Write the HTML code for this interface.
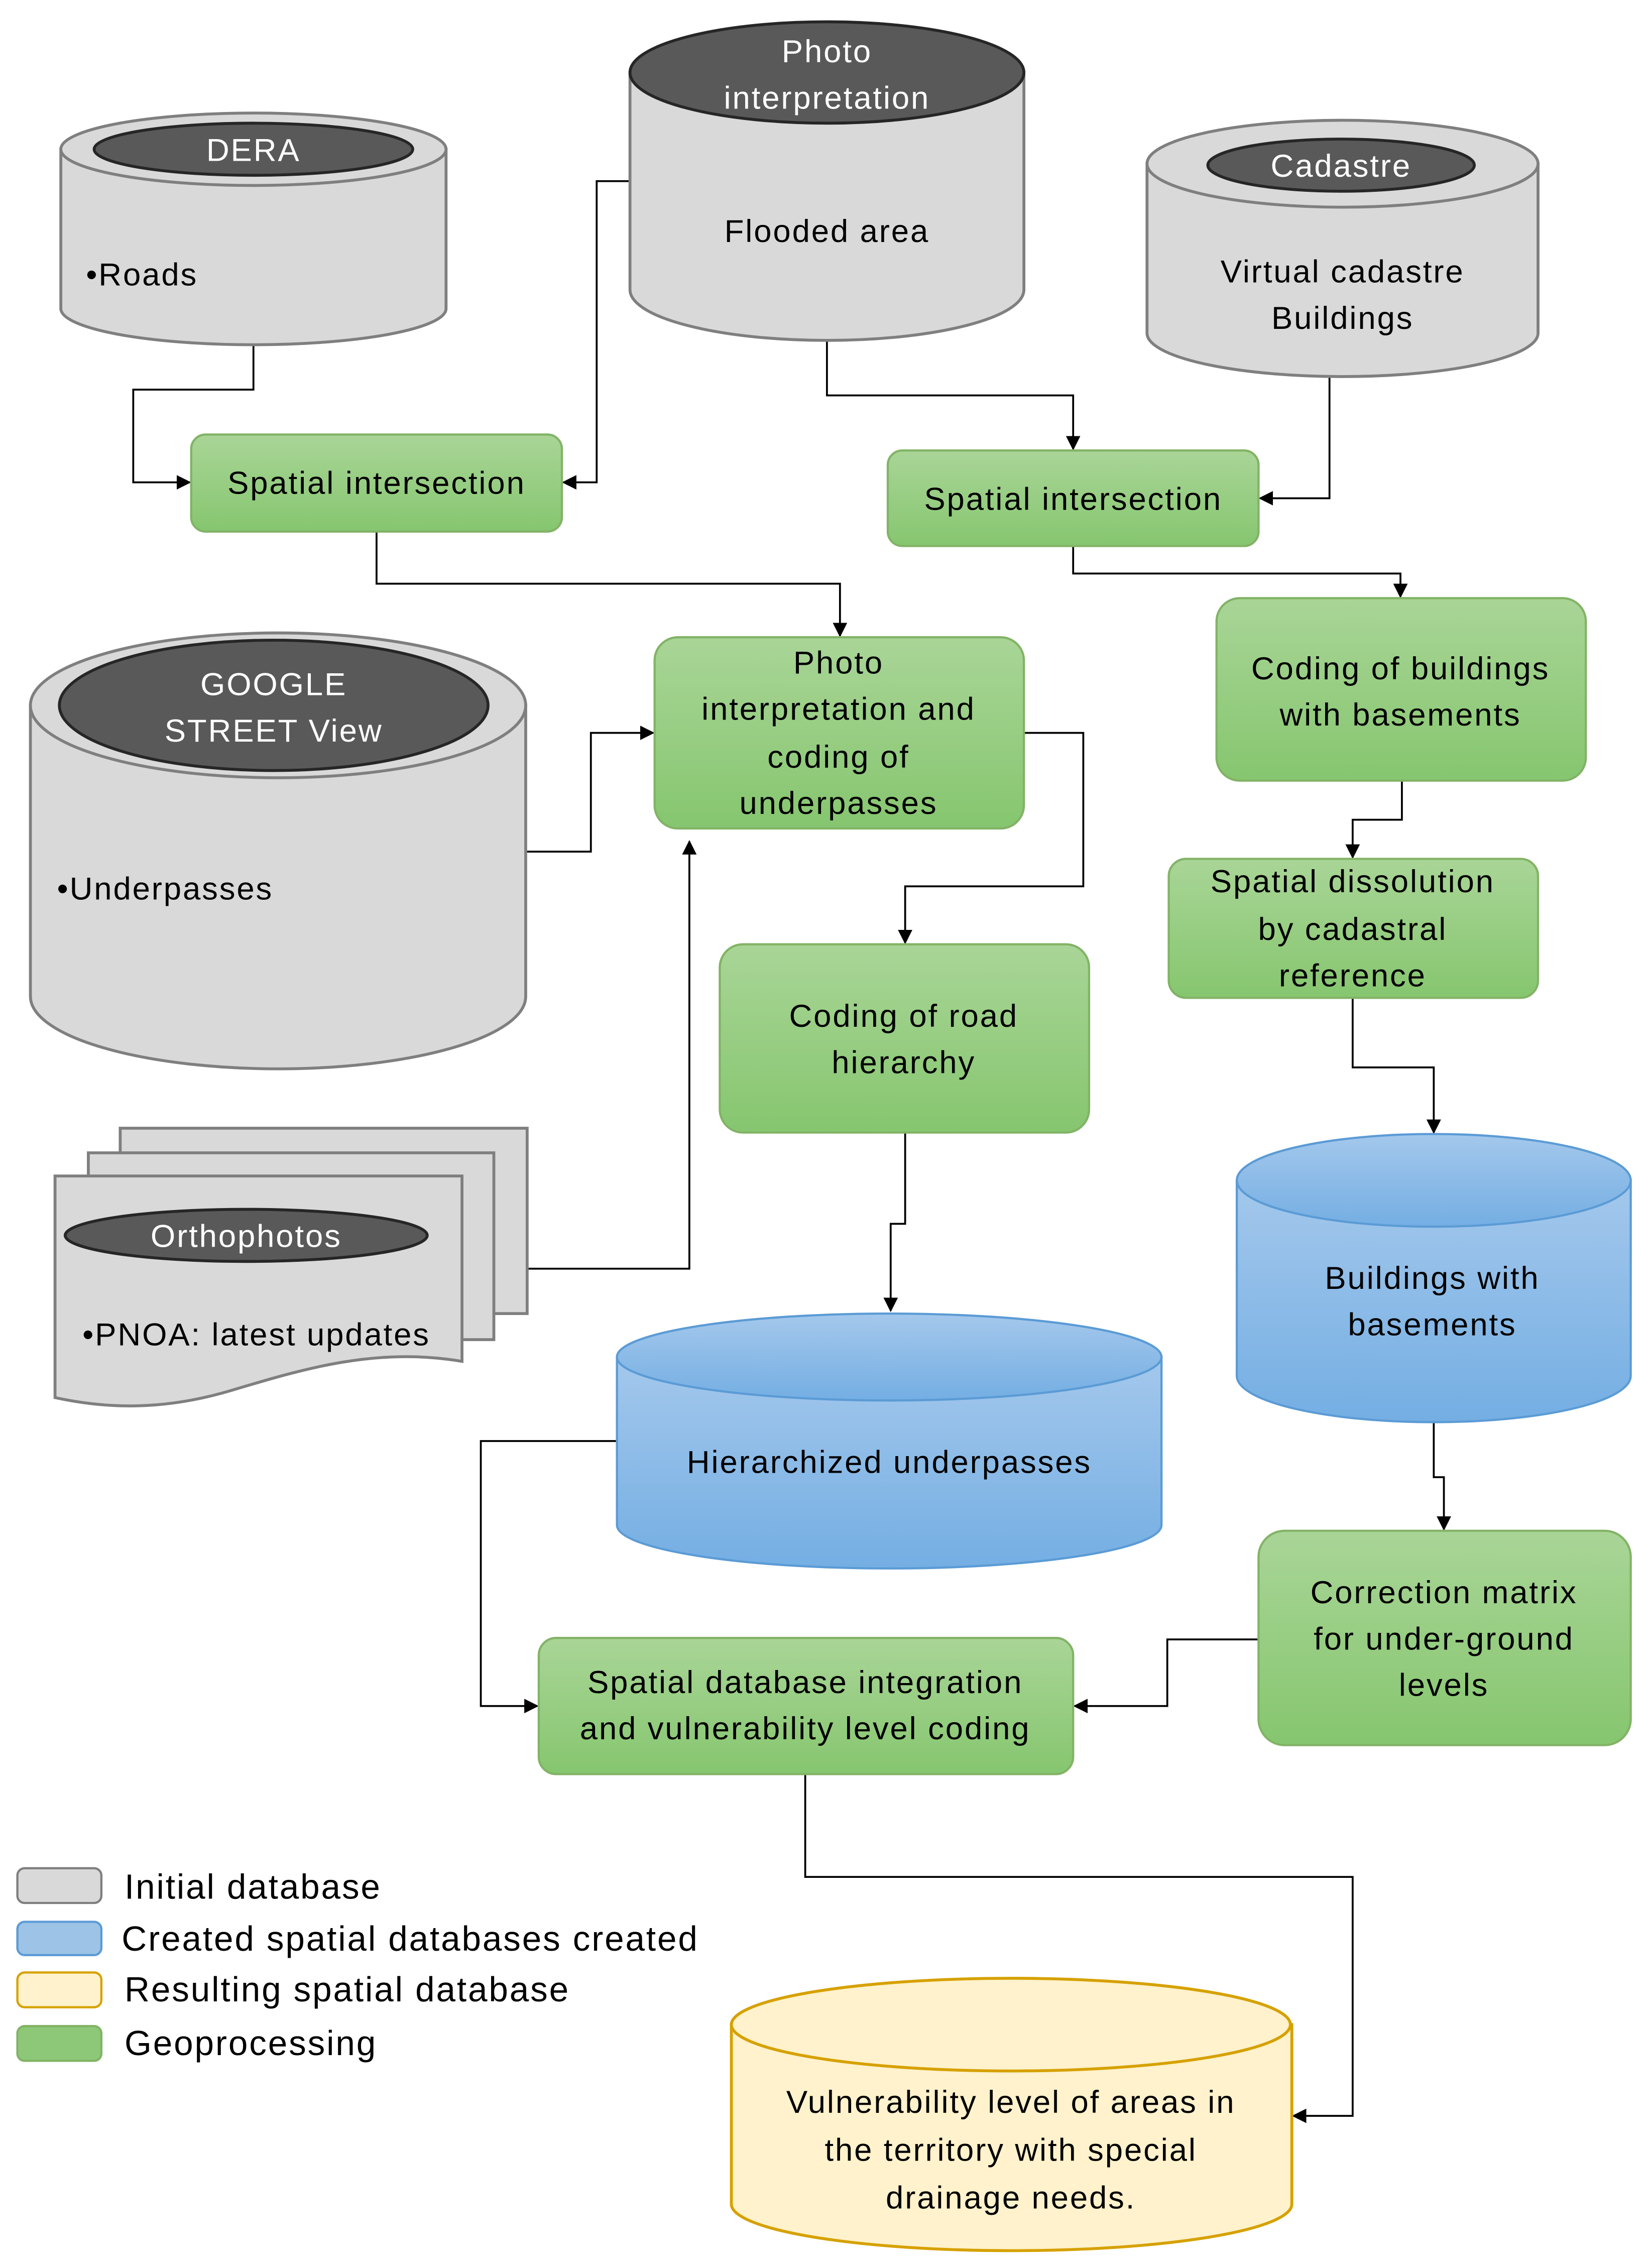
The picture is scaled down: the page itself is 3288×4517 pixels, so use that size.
<!DOCTYPE html>
<html><head><meta charset="utf-8"><style>html,body{margin:0;padding:0;background:#fff}svg{display:block}</style></head>
<body>
<svg width="3288" height="4517" viewBox="0 0 1140 1566" xmlns="http://www.w3.org/2000/svg" font-family="Liberation Sans, sans-serif">
<defs>
<linearGradient id="g" x1="0" y1="0" x2="0" y2="1"><stop offset="0" stop-color="#a9d597"/><stop offset="1" stop-color="#86c66f"/></linearGradient>
<linearGradient id="b" x1="0" y1="0" x2="0" y2="1"><stop offset="0" stop-color="#a4c8ec"/><stop offset="1" stop-color="#74aee3"/></linearGradient>
<marker id="a" markerWidth="10" markerHeight="10" refX="9" refY="5" orient="auto" markerUnits="userSpaceOnUse"><path d="M0,0 L10,5 L0,10 z" fill="#000"/></marker>
</defs>
<g fill="none" stroke="#000" stroke-width="1.3" marker-end="url(#a)">
<path d="M175,238 V269 H92 V333 H131"/>
<path d="M435,125 H412 V333 H389"/>
<path d="M571,235 V273 H741 V310"/>
<path d="M918,260 V344 H870"/>
<path d="M260,367 V403 H580 V439"/>
<path d="M741,377 V396 H967 V412"/>
<path d="M363,588 H408 V506 H451"/>
<path d="M707,506 H748 V612 H625 V651"/>
<path d="M364,876 H476 V581"/>
<path d="M968,539 V566 H934 V592"/>
<path d="M934,689 V737 H990 V782"/>
<path d="M625,782 V845 H615 V905"/>
<path d="M426,995 H332 V1178 H371"/>
<path d="M990,982 V1020 H997 V1056"/>
<path d="M869,1132 H806 V1178 H742"/>
<path d="M556,1225 V1296 H934 V1461 H893"/>
</g>
<g stroke="#7f7f7f" stroke-width="2" fill="#d9d9d9">
<path d="M42,103 V213 A133,25 0 0 0 308,213 V103 Z"/><ellipse cx="175" cy="103" rx="133" ry="25"/>
<path d="M435,50 V200 A136,35 0 0 0 707,200 V50 Z"/>
<path d="M792,113 V230 A135,30 0 0 0 1062,230 V113 Z"/><ellipse cx="927" cy="113" rx="135" ry="30"/>
<path d="M21,487 V688 A171,50 0 0 0 363,688 V487 Z"/><ellipse cx="192" cy="487" rx="171" ry="50"/>
<rect x="83" y="779" width="281" height="128"/><rect x="61" y="796" width="280" height="129"/>
<path d="M38,812 H319 V940 C260,930 210,945 160,960 C110,975 70,972 38,965 Z"/>
</g>
<g fill="#595959" stroke="#262626" stroke-width="2">
<ellipse cx="175" cy="103" rx="110" ry="18"/>
<ellipse cx="571" cy="50" rx="136" ry="35"/>
<ellipse cx="926" cy="114" rx="92" ry="18"/>
<ellipse cx="189" cy="487" rx="148" ry="45"/>
<ellipse cx="170" cy="853" rx="125" ry="18"/>
</g>
<g stroke="#5b9bd5" stroke-width="1.5" fill="url(#b)">
<path d="M426,937 V1053 A188,30 0 0 0 802,1053 V937 Z"/><ellipse cx="614" cy="937" rx="188" ry="30"/>
<path d="M854,815 V950 A136,32 0 0 0 1126,950 V815 Z"/><ellipse cx="990" cy="815" rx="136" ry="32"/>
</g>
<g stroke="#d6a100" stroke-width="2" fill="#fff2cc">
<path d="M505,1398 V1522 A193,32 0 0 0 892,1522 V1398 Z"/><ellipse cx="698" cy="1398" rx="193" ry="32"/>
</g>
<g fill="url(#g)" stroke="#82b366" stroke-width="1.5">
<rect x="132" y="300" width="256" height="67" rx="10"/>
<rect x="613" y="311" width="256" height="66" rx="10"/>
<rect x="452" y="440" width="255" height="132" rx="16"/>
<rect x="840" y="413" width="255" height="126" rx="16"/>
<rect x="807" y="593" width="255" height="96" rx="12"/>
<rect x="497" y="652" width="255" height="130" rx="16"/>
<rect x="869" y="1057" width="257" height="148" rx="18"/>
<rect x="372" y="1131" width="369" height="94" rx="12"/>
</g>
<rect x="12" y="1290" width="58" height="24" rx="5" fill="#d9d9d9" stroke="#7f7f7f" stroke-width="1.5"/>
<rect x="12" y="1327" width="58" height="23" rx="5" fill="#9dc3e6" stroke="#5b9bd5" stroke-width="1.5"/>
<rect x="12" y="1362" width="58" height="24" rx="5" fill="#fff2cc" stroke="#d6a100" stroke-width="1.5"/>
<rect x="12" y="1399" width="58" height="24" rx="5" fill="#8dc878" stroke="#82b366" stroke-width="1.5"/>
<g font-size="22" fill="#fff" text-anchor="middle" letter-spacing="1">
<text x="175" y="111">DERA</text>
<text x="571" y="43">Photo</text><text x="571" y="75">interpretation</text>
<text x="926" y="122">Cadastre</text>
<text x="189" y="480">GOOGLE</text><text x="189" y="512">STREET View</text>
<text x="170" y="861">Orthophotos</text>
</g>
<g font-size="22" fill="#000" text-anchor="middle" letter-spacing="1">
<text x="98" y="197">•Roads</text>
<text x="571" y="167">Flooded area</text>
<text x="927" y="195">Virtual cadastre</text><text x="927" y="227">Buildings</text>
<text x="114" y="621">•Underpasses</text>
<text x="177" y="929">•PNOA: latest updates</text>
<text x="260" y="341">Spatial intersection</text>
<text x="741" y="352">Spatial intersection</text>
<text x="579" y="465">Photo</text><text x="579" y="497">interpretation and</text><text x="579" y="530">coding of</text><text x="579" y="562">underpasses</text>
<text x="967" y="469">Coding of buildings</text><text x="967" y="501">with basements</text>
<text x="934" y="616">Spatial dissolution</text><text x="934" y="649">by cadastral</text><text x="934" y="681">reference</text>
<text x="624" y="709">Coding of road</text><text x="624" y="741">hierarchy</text>
<text x="614" y="1017">Hierarchized underpasses</text>
<text x="989" y="890">Buildings with</text><text x="989" y="922">basements</text>
<text x="997" y="1107">Correction matrix</text><text x="997" y="1139">for under-ground</text><text x="997" y="1171">levels</text>
<text x="556" y="1169">Spatial database integration</text><text x="556" y="1201">and vulnerability level coding</text>
<text x="698" y="1459">Vulnerability level of areas in</text><text x="698" y="1492">the territory with special</text><text x="698" y="1525">drainage needs.</text>
</g>
<g font-size="24" fill="#000" letter-spacing="1">
<text x="86" y="1311">Initial database</text>
<text x="84" y="1347">Created spatial databases created</text>
<text x="86" y="1382">Resulting spatial database</text>
<text x="86" y="1419">Geoprocessing</text>
</g>
</svg>
</body></html>
